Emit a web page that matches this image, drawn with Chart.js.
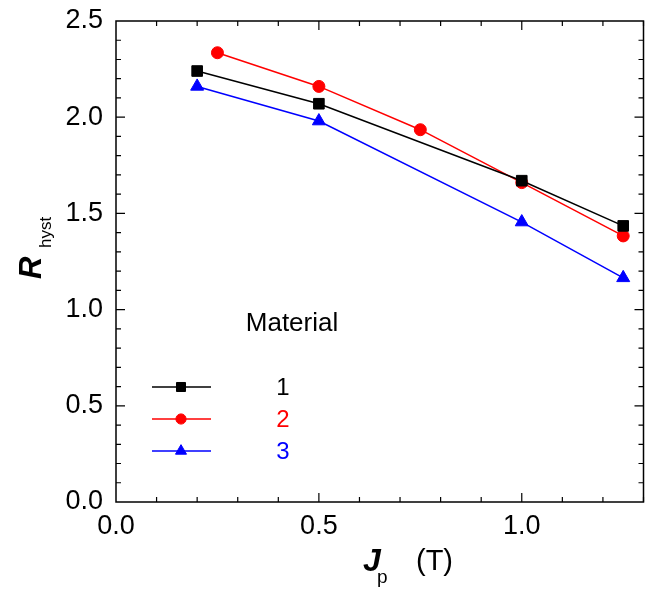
<!DOCTYPE html>
<html><head><meta charset="utf-8">
<script src="https://cdn.jsdelivr.net/npm/chart.js@4"></script>
<style>html,body{margin:0;padding:0;background:#fff;}#wrap{width:652px;height:607px;}</style>
</head><body><div id="wrap"><canvas id="c" width="652" height="607"></canvas></div>
<script>
const seriesNames = ['1', '2', '3'];
const x1 = [0.2, 0.5, 1.0, 1.25];
const y1 = [2.24, 2.07, 1.67, 1.435];
const x2 = [0.25, 0.5, 0.75, 1.0, 1.25];
const y2 = [2.335, 2.16, 1.935, 1.66, 1.383];
const x3 = [0.2, 0.5, 1.0, 1.25];
const y3 = [2.16, 1.98, 1.455, 1.165];
const xTicks = [0.0, 0.5, 1.0];
const yTicks = [0.0, 0.5, 1.0, 1.5, 2.0, 2.5];

const colors = ['#000000', '#ff0000', '#0000ff'];
const shapes = ['rect', 'circle', 'triangle'];
const radii = [7.5, 6, 7.5];
const FONT = 'Liberation Sans, Arial, sans-serif';

function pts(xs, ys) { return xs.map((x, i) => ({x: x, y: ys[i]})); }
const dataSets = [pts(x1, y1), pts(x2, y2), pts(x3, y3)];

const framePlugin = {
  id: 'frame',
  afterDraw(chart) {
    const ctx = chart.ctx, a = chart.chartArea;
    const xs = chart.scales.x, ys = chart.scales.y;
    ctx.save();
    ctx.strokeStyle = '#000'; ctx.lineWidth = 1.5;
    ctx.strokeRect(a.left, a.top, a.right - a.left, a.bottom - a.top);
    ctx.lineWidth = 1.2;
    ctx.beginPath();
    for (let i = 1; i <= 13; i++) {
      const v = i / 10;
      const px = xs.getPixelForValue(v);
      const len = (i % 5 === 0) ? 9 : 5;
      ctx.moveTo(px, a.bottom); ctx.lineTo(px, a.bottom - len);
      ctx.moveTo(px, a.top); ctx.lineTo(px, a.top + len);
    }
    for (let i = 1; i < 25; i++) {
      const v = i / 10;
      const py = ys.getPixelForValue(v);
      const len = (i % 5 === 0) ? 9 : 5;
      ctx.moveTo(a.left, py); ctx.lineTo(a.left + len, py);
      ctx.moveTo(a.right, py); ctx.lineTo(a.right - len, py);
    }
    ctx.stroke();

    // legend
    const ly = [387, 419, 451];
    ctx.font = '26px ' + FONT;
    ctx.fillStyle = '#000'; ctx.textAlign = 'center'; ctx.textBaseline = 'middle';
    ctx.fillText('Material', 292, 324);
    for (let i = 0; i < 3; i++) {
      ctx.strokeStyle = colors[i]; ctx.fillStyle = colors[i]; ctx.lineWidth = 1.5;
      ctx.beginPath(); ctx.moveTo(152, ly[i]); ctx.lineTo(211, ly[i]); ctx.stroke();
      ctx.lineWidth = 1;
      Chart.helpers.drawPoint(ctx, {pointStyle: shapes[i], radius: radii[i] * 0.85, borderWidth: 1, rotation: 0}, 181, ly[i]);
      ctx.font = '24px ' + FONT;
      ctx.fillText(seriesNames[i], 283, ly[i] + 1);
    }

    // axis titles
    ctx.fillStyle = '#000';
    ctx.textAlign = 'left'; ctx.textBaseline = 'alphabetic';
    ctx.font = 'italic bold 32px ' + FONT;
    ctx.fillText('J', 363, 571);
    ctx.font = '19px ' + FONT;
    ctx.fillText('p', 377, 583);
    ctx.font = '29px ' + FONT;
    ctx.fillText('(T)', 416, 570);

    ctx.save();
    ctx.translate(41, 279);
    ctx.rotate(-Math.PI / 2);
    ctx.font = 'italic bold 31px ' + FONT;
    ctx.fillText('R', 0, 0);
    ctx.font = '17px ' + FONT;
    ctx.fillText('hyst', 31, 10);
    ctx.restore();
    ctx.restore();
  }
};

new Chart(document.getElementById('c'), {
  type: 'scatter',
  data: {
    datasets: dataSets.map((d, i) => ({
      label: seriesNames[i],
      data: d,
      showLine: true,
      borderColor: colors[i],
      backgroundColor: colors[i],
      borderWidth: 1.5,
      pointStyle: shapes[i],
      pointRadius: radii[i],
      pointHoverRadius: radii[i],
      pointBorderWidth: 1,
      clip: false
    }))
  },
  options: {
    responsive: false,
    animation: false,
    devicePixelRatio: 1,
    layout: {padding: {top: 21, right: 8, left: 0, bottom: 0}},
    plugins: {legend: {display: false}, tooltip: {enabled: false}},
    scales: {
      x: {
        type: 'linear', min: 0, max: 1.3,
        afterBuildTicks(s) { s.ticks = xTicks.map(v => ({value: v})); },
        afterFit(s) { s.height = 105; s.paddingLeft = 0; s.paddingRight = 0; },
        grid: {display: false, drawTicks: false},
        border: {display: false},
        ticks: {padding: 8, color: '#000', font: {family: FONT, size: 27}, callback: v => Number(v).toFixed(1)}
      },
      y: {
        type: 'linear', min: 0, max: 2.5,
        afterBuildTicks(s) { s.ticks = yTicks.map(v => ({value: v})); },
        afterFit(s) { s.width = 116; s.paddingTop = 0; s.paddingBottom = 0; },
        grid: {display: false, drawTicks: false},
        border: {display: false},
        ticks: {padding: 13, color: '#000', font: {family: FONT, size: 27}, callback: v => Number(v).toFixed(1)}
      }
    }
  },
  plugins: [framePlugin]
});
</script>
</body></html>
